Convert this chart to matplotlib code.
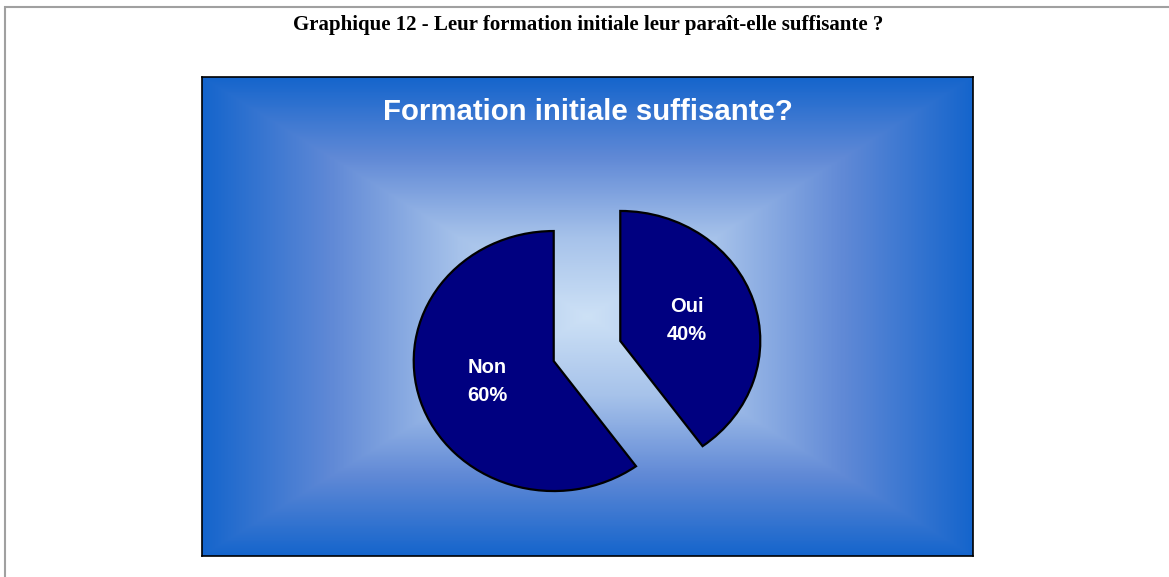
import numpy as np
import matplotlib
matplotlib.use("Agg")
import matplotlib.pyplot as plt
from matplotlib.lines import Line2D
from matplotlib.colors import LinearSegmentedColormap

# ---- data ----
categories = ["Oui", "Non"]
values = [40, 60]
explode = [0.25, 0.25]
page_title = "Graphique 12 - Leur formation initiale leur paraît-elle suffisante ?"
chart_title = "Formation initiale suffisante?"

W, H = 1169, 577
fig = plt.figure(figsize=(W / 100, H / 100), dpi=100)
fig.patch.set_facecolor("white")

# page border (top and left only)
fig.add_artist(Line2D([4 / W, 1], [1 - 6.5 / H, 1 - 6.5 / H], color="#a0a0a0", lw=1.5,
                      solid_capstyle="butt"))
fig.add_artist(Line2D([5 / W, 5 / W], [0, 1 - 6 / H], color="#a0a0a0", lw=1.5,
                      solid_capstyle="butt"))

fig.text(588 / W, 1 - 25 / H, page_title, ha="center", va="center",
         family="Liberation Serif", fontweight="bold", fontsize=15, color="black")

# chart box with rectangular gradient
x0, y0, x1, y1 = 202, 77, 973, 556
box = fig.add_axes([x0 / W, 1 - y1 / H, (x1 - x0) / W, (y1 - y0) / H])
nx, ny = 772, 480
xx = np.linspace(-1, 1, nx)
yy = np.linspace(-1, 1, ny)
X, Y = np.meshgrid(xx, yy)
T = np.maximum(np.abs(X), np.abs(Y))
cmap = LinearSegmentedColormap.from_list("bg", ["#cde1f6", "#a6c2ea", "#6089d6", "#1565cc"])
box.imshow(T, cmap=cmap, extent=[0, 1, 0, 1], aspect="auto", origin="lower",
           vmin=0, vmax=1, interpolation="bilinear")
box.set_xlim(0, 1)
box.set_ylim(0, 1)
box.set_xticks([])
box.set_yticks([])
for s in box.spines.values():
    s.set_linewidth(1.2)
    s.set_color("black")
box.text(0.5, 1 - (112 - y0) / (y1 - y0), chart_title, transform=box.transAxes,
         ha="center", va="center", color="white", fontweight="bold",
         family="Liberation Sans", fontsize=21.2)

# pie axes (slightly elliptical)
cx, cy = 587, 351
rx, ry = 140, 130
lim = 1.5
pax = fig.add_axes([(cx - lim * rx) / W, 1 - (cy + lim * ry) / H,
                    2 * lim * rx / W, 2 * lim * ry / H])
pax.patch.set_alpha(0)
labels = [f"{c}\n{v}%" for c, v in zip(categories, values)]
wedges, texts = pax.pie(values, labels=labels, explode=explode, startangle=90,
                        counterclock=False, labeldistance=0.5,
                        colors=["#000080", "#000080"],
                        wedgeprops=dict(edgecolor="black", linewidth=1.6),
                        textprops=dict(color="white", fontweight="bold",
                                       family="Liberation Sans", fontsize=14.5,
                                       ha="center", va="center", linespacing=1.6))
pax.set_aspect("auto")
pax.set_xlim(-lim, lim)
pax.set_ylim(-lim, lim)
pax.axis("off")

fig.savefig("out.png", dpi=100)
